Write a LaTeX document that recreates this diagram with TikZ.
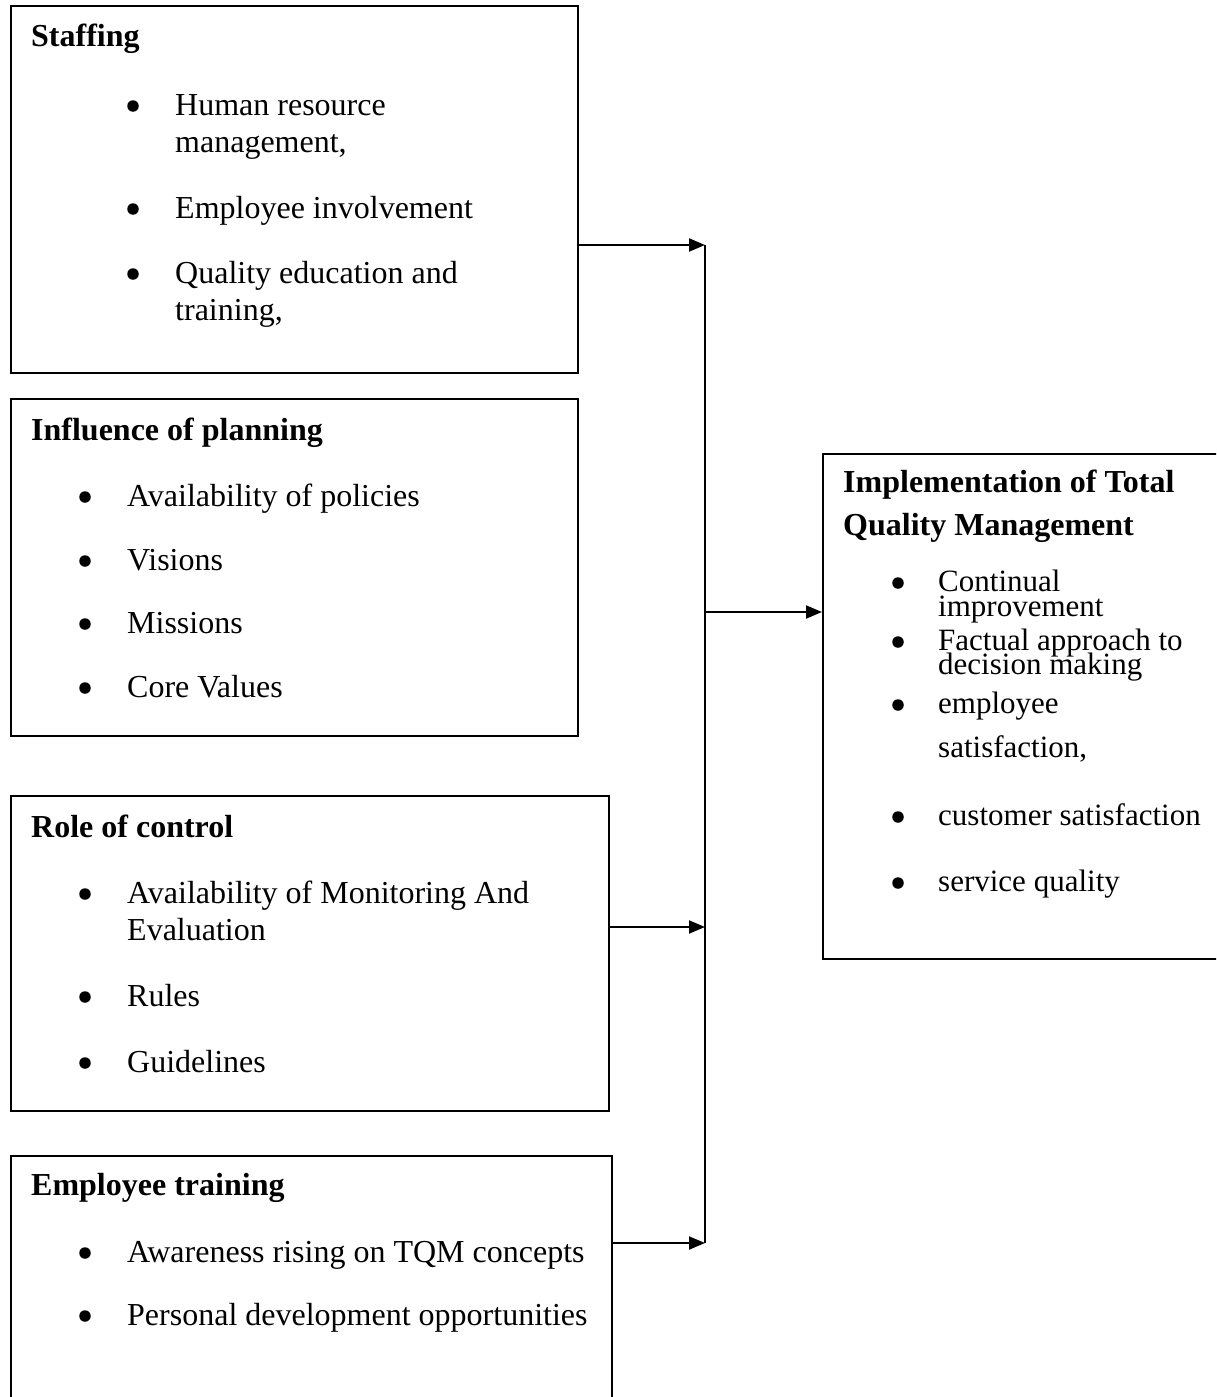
\documentclass[tikz,border=0pt]{standalone}
\usepackage{fontspec}
\setmainfont{Liberation Serif}
\usetikzlibrary{arrows.meta}
\begin{document}
\begin{tikzpicture}[x=1pt,y=-1pt,
  box/.style={draw=black,line width=2pt,anchor=north west,inner sep=0pt},
  ttl/.style={anchor=base west,inner sep=0pt,font=\fontsize{32}{38}\selectfont\bfseries},
  itm/.style={anchor=base west,inner sep=0pt,font=\fontsize{32}{38}\selectfont},
  sitm/.style={anchor=base west,inner sep=0pt,font=\fontsize{31}{36}\selectfont},
  bul/.style={circle,fill=black,inner sep=0pt,minimum size=11.5pt},
  wire/.style={line width=2pt},
  arr/.style={line width=2pt,-{Triangle[length=16pt,width=13pt]}}]
\useasboundingbox (0,0) rectangle (1216,1397);
\clip (0,0) rectangle (1216,1397);
% boxes
\node[box,minimum width=567pt,minimum height=367pt] (staff) at (10,5) {};
\node[box,minimum width=567pt,minimum height=337pt] (plan) at (10,398) {};
\node[box,minimum width=598pt,minimum height=315pt] (ctrl) at (10,795) {};
\node[box,minimum width=601pt,minimum height=300pt] (train) at (10,1155) {};
\node[box,minimum width=400pt,minimum height=505pt] (impl) at (822,453) {};
% Staffing
\node[ttl] (t1) at (31,47) {Staffing};
\node[bul] (b11) at (133,106) {};
\node[itm] (s11) at (175,115) {Human resource};
\node[itm] (s12) at (175,152) {management,};
\node[bul] (b12) at (133,209) {};
\node[itm] (s13) at (175,218) {Employee involvement};
\node[bul] (b13) at (133,274) {};
\node[itm] (s14) at (175,283) {Quality education and};
\node[itm] (s15) at (175,320) {training,};
% Planning
\node[ttl] (t2) at (31,440) {Influence of planning};
\node[bul] (b21) at (85,497) {};
\node[itm] (s21) at (127,506) {Availability of policies};
\node[bul] (b22) at (85,561) {};
\node[itm] (s22) at (127,570) {Visions};
\node[bul] (b23) at (85,624) {};
\node[itm] (s23) at (127,633) {Missions};
\node[bul] (b24) at (85,688) {};
\node[itm] (s24) at (127,697) {Core Values};
% Control
\node[ttl] (t3) at (31,837) {Role of control};
\node[bul] (b31) at (85,894) {};
\node[itm] (s31) at (127,903) {Availability of Monitoring And};
\node[itm] (s32) at (127,940) {Evaluation};
\node[bul] (b32) at (85,997) {};
\node[itm] (s33) at (127,1006) {Rules};
\node[bul] (b33) at (85,1063) {};
\node[itm] (s34) at (127,1072) {Guidelines};
% Training
\node[ttl] (t4) at (31,1195) {Employee training};
\node[bul] (b41) at (85,1253) {};
\node[itm] (s41) at (127,1262) {Awareness rising on TQM concepts};
\node[bul] (b42) at (85,1316) {};
\node[itm] (s42) at (127,1325) {Personal development opportunities};
% Implementation
\node[ttl] (t5) at (843,492) {Implementation of Total};
\node[ttl] (t6) at (843,535) {Quality Management};
\node[bul] (b51) at (898,583) {};
\node[sitm] (s51) at (938,591) {Continual};
\node[sitm] (s52) at (938,616) {improvement};
\node[bul] (b52) at (898,642) {};
\node[sitm] (s53) at (938,650) {Factual approach to};
\node[sitm] (s54) at (938,674) {decision making};
\node[bul] (b53) at (898,705) {};
\node[sitm] (s55) at (938,713) {employee};
\node[sitm] (s56) at (938,757) {satisfaction,};
\node[bul] (b54) at (898,817) {};
\node[sitm] (s57) at (938,825) {customer satisfaction};
\node[bul] (b55) at (898,883) {};
\node[sitm] (s58) at (938,891) {service quality};
% connectors
\coordinate (j1) at (705,245);
\coordinate (j2) at (705,612);
\coordinate (j3) at (705,927);
\coordinate (j4) at (705,1243);
\draw[wire] (j1) -- (j4);
\draw[arr] (staff.east |- j1) -- (j1);
\draw[arr] (ctrl.east |- j3) -- (j3);
\draw[arr] (train.east |- j4) -- (j4);
\draw[arr] (j2) -- (impl.west |- j2);
\end{tikzpicture}
\end{document}
